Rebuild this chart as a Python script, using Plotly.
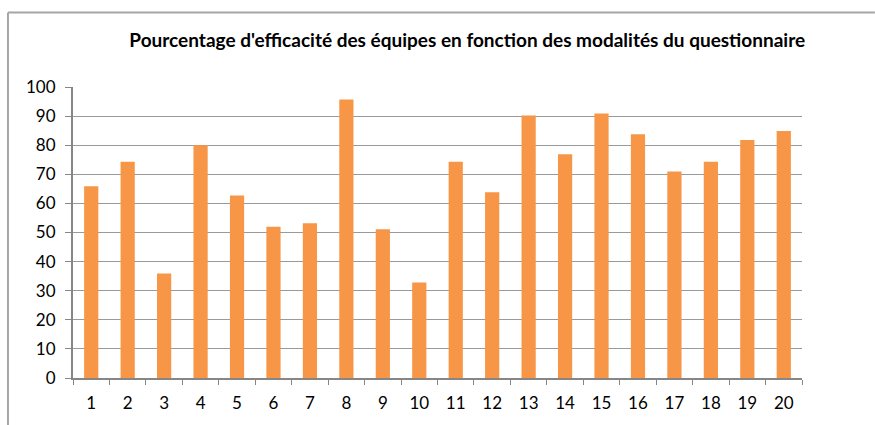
import plotly.graph_objects as go

categories = [str(i) for i in range(1, 21)]
efficacite = [65.9, 74.3, 35.9, 80.0, 62.7, 52.0, 53.2, 95.7, 51.1, 32.8,
              74.3, 63.8, 90.2, 76.9, 90.9, 83.8, 71.0, 74.3, 81.8, 84.9]
y_ticks = list(range(0, 101, 10))

fig = go.Figure(go.Bar(x=categories, y=efficacite, marker_color="#F79646",
                       marker_line_width=0, width=0.39))

fig.update_layout(
    width=875, height=425,
    margin=dict(l=73, r=73, t=87, b=45),
    paper_bgcolor="white", plot_bgcolor="white",
    font=dict(family="Lato, Open Sans, sans-serif", size=17, color="black"),
    title=dict(text="<b>Pourcentage d'efficacité des équipes en fonction des modalités du questionnaire</b>",
               x=0.534, xanchor="center", y=0.906, yanchor="middle",
               font=dict(size=19)),
    showlegend=False,
    # chart frame: only the top and left edges are inside the picture
    shapes=[
        dict(type="line", xref="paper", yref="paper", x0=-0.0892, x1=1.1, y0=1.256, y1=1.256,
             line=dict(color="#A6A6A6", width=2)),
        dict(type="line", xref="paper", yref="paper", x0=-0.0892, x1=-0.0892, y0=-0.2, y1=1.256,
             line=dict(color="#A6A6A6", width=2)),
    ],
)
fig.update_xaxes(type="category", showline=True, linecolor="#868686", linewidth=2,
                 ticks="outside", tickson="boundaries", ticklen=5, tickcolor="#868686",
                 ticklabelstandoff=9, showgrid=False)
fig.update_yaxes(range=[0, 100], tickvals=y_ticks, showline=True, linecolor="#868686",
                 linewidth=2, ticks="outside", ticklen=6, tickcolor="#868686",
                 ticklabelstandoff=6, showgrid=True, gridcolor="#9A9A9A", gridwidth=1,
                 zeroline=False)

# the page body has an 8px margin by default; drop it so the figure sits at 0,0
fig.write_html("out.html", config={"displayModeBar": False},
               post_script="document.body.style.margin='0';")
